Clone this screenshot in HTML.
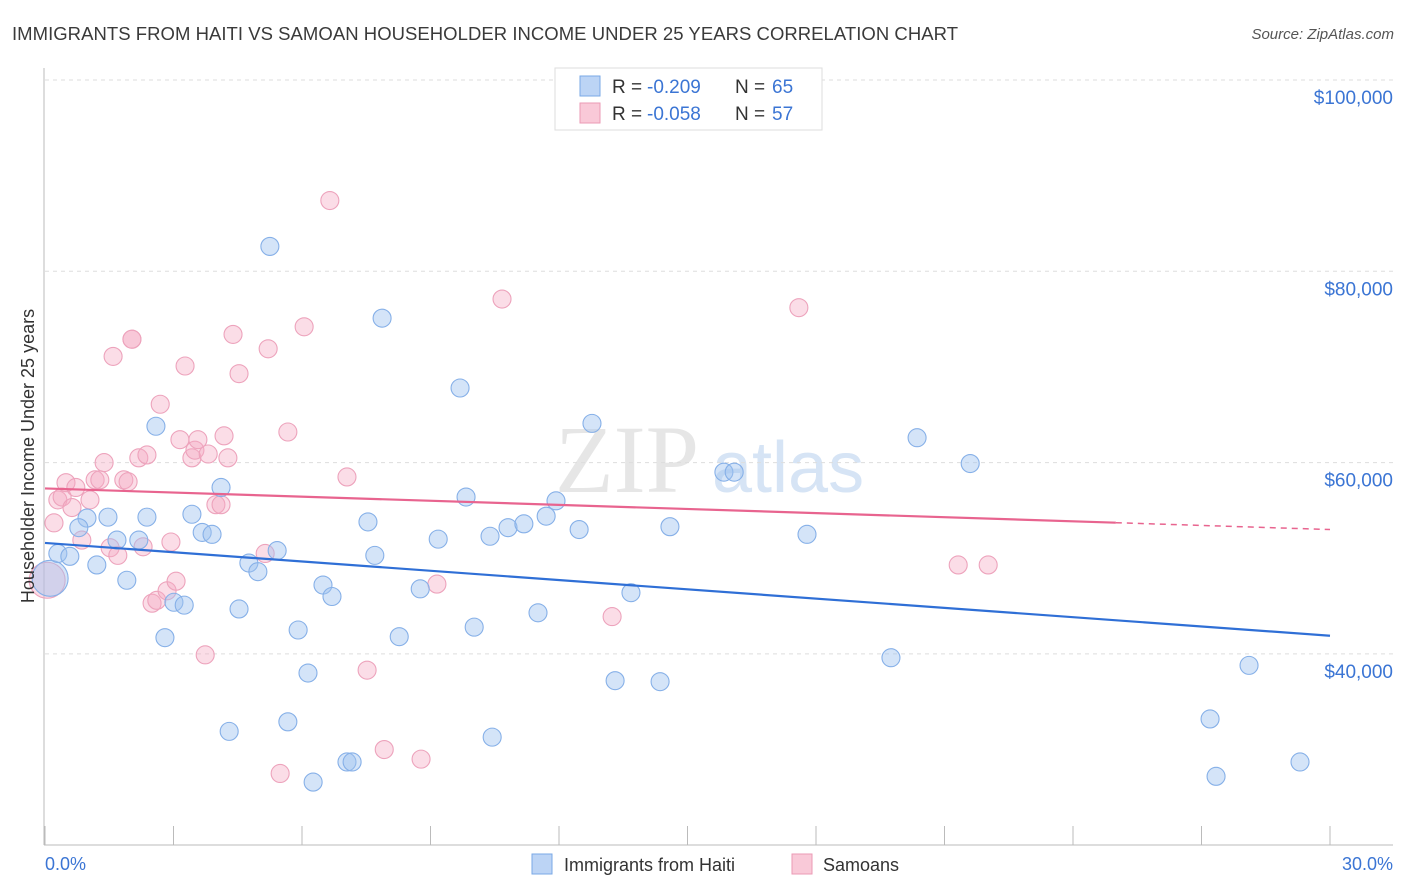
<!DOCTYPE html>
<html><head><meta charset="utf-8"><style>
body{margin:0;background:#fff;font-family:"Liberation Sans",sans-serif;}
svg{display:block}
</style></head><body>
<svg id="chart" width="1406" height="892">
<text x="12" y="40" font-size="18.5" fill="#3a3a3a" textLength="946">IMMIGRANTS FROM HAITI VS SAMOAN HOUSEHOLDER INCOME UNDER 25 YEARS CORRELATION CHART</text>
<text x="1394" y="39" font-size="15" fill="#555" font-style="italic" text-anchor="end">Source: ZipAtlas.com</text>
<text x="555" y="492" font-size="96" fill="#e6e6e6" font-family="Liberation Serif">ZIP</text>
<text x="712" y="492" font-size="72" fill="#d6e4f5">atlas</text>
<g id="grid"></g><g id="axes"></g><g id="pts"></g><g id="lines"></g>
<text transform="translate(34,456) rotate(-90)" font-size="18" fill="#333" text-anchor="middle">Householder Income Under 25 years</text>
<text x="45" y="870" font-size="18" fill="#3b75d4">0.0%</text>
<text x="1393" y="870" font-size="18" fill="#3b75d4" text-anchor="end">30.0%</text>
<g>
<rect x="555" y="68" width="267" height="62" fill="#fff" stroke="#ddd"/>
<rect x="580" y="76" width="20" height="20" fill="#bcd4f5" stroke="#7aa8e6"/>
<rect x="580" y="103" width="20" height="20" fill="#f9c9d8" stroke="#eb9ab5"/>
<text x="612" y="93" font-size="19" fill="#333">R =</text>
<text x="647" y="93" font-size="19" fill="#3b75d4">-0.209</text>
<text x="735" y="93" font-size="19" fill="#333">N =</text>
<text x="772" y="93" font-size="19" fill="#3b75d4">65</text>
<text x="612" y="120" font-size="19" fill="#333">R =</text>
<text x="647" y="120" font-size="19" fill="#3b75d4">-0.058</text>
<text x="735" y="120" font-size="19" fill="#333">N =</text>
<text x="772" y="120" font-size="19" fill="#3b75d4">57</text>
</g>
<g>
<rect x="532" y="854" width="20" height="20" fill="#bcd4f5" stroke="#7aa8e6"/>
<text x="564" y="871" font-size="18" fill="#333">Immigrants from Haiti</text>
<rect x="792" y="854" width="20" height="20" fill="#f9c9d8" stroke="#eb9ab5"/>
<text x="823" y="871" font-size="18" fill="#333">Samoans</text>
</g>
</svg>
<script>
const yTicks=[100000,80000,60000,40000];
const yTickLabels=["$100,000","$80,000","$60,000","$40,000"];
const xTicks=[0,3,6,9,12,15,18,21,24,27,30];
const haitiX=[0.12,0.30,0.58,0.98,0.79,1.21,1.47,1.68,1.91,2.19,2.38,2.59,2.80,3.01,3.25,3.43,3.67,3.90,4.11,4.53,4.76,4.97,5.25,5.42,5.67,5.91,6.14,6.26,6.49,6.70,7.05,7.17,7.54,7.70,7.87,8.27,8.76,9.18,9.69,9.83,10.02,10.39,10.44,10.81,11.18,11.51,11.70,11.93,12.47,12.77,13.31,13.68,14.36,14.59,15.85,16.09,17.79,19.75,20.36,21.60,27.20,27.34,28.11,29.30,4.30];
const haitiY=[47.9,50.5,50.2,54.2,53.2,49.3,54.3,51.9,47.7,51.9,54.3,63.8,41.7,45.4,45.1,54.6,52.7,52.5,57.4,44.7,49.5,48.6,82.6,50.8,32.9,42.5,38.0,26.6,47.2,46.0,28.7,28.7,53.8,50.3,75.1,41.8,46.8,52.0,67.8,56.4,42.8,52.3,31.3,53.2,53.6,44.3,54.4,56.0,53.0,64.1,37.2,46.4,37.1,53.3,59.0,59.0,52.5,39.6,62.6,59.9,33.2,27.2,38.8,28.7,31.9];
const samoaX=[0.05,0.21,0.30,0.40,0.49,0.63,0.72,0.86,1.05,1.17,1.28,1.38,1.52,1.59,1.70,1.84,1.94,2.03,2.19,2.29,2.38,2.50,2.61,2.69,2.85,2.94,3.06,3.27,3.15,3.43,3.50,3.57,3.74,3.81,3.99,4.11,4.18,4.27,4.39,4.53,5.14,5.21,5.49,5.67,6.05,6.65,7.05,7.52,7.92,8.78,9.15,10.67,13.24,17.60,21.32,22.02,2.03];
const samoaY=[47.7,53.7,56.1,56.4,57.9,55.3,57.4,51.9,56.1,58.2,58.2,60.0,51.1,71.1,50.3,58.2,58.0,72.9,60.5,51.2,60.8,45.3,45.6,66.1,46.6,51.7,47.6,70.1,62.4,60.5,61.3,62.4,39.9,60.9,55.6,55.6,62.8,60.5,73.4,69.3,50.5,71.9,27.5,63.2,74.2,87.4,58.5,38.3,30.0,29.0,47.3,77.1,43.9,76.2,49.3,49.3,72.9];
const haitiTrend=[51.6,41.9];
const samoaTrend=[57.3,53.0];
const samoaSolidEnd=25;
const X0=45,X1=1330,Y100=80,PX_PER_K=9.565;
const sx=v=>X0+(v/30)*(X1-X0);
const sy=k=>Y100+(100-k)*PX_PER_K;
const NS="http://www.w3.org/2000/svg";
function mk(t,a,p){const e=document.createElementNS(NS,t);for(const k in a)e.setAttribute(k,a[k]);p.appendChild(e);return e;}
const grid=document.getElementById('grid');
yTicks.forEach((t,i)=>{const y=sy(t/1000);
const l=mk('line',{x1:45,x2:1393,y1:y,y2:y,stroke:'#ddd','stroke-dasharray':'4,4'},grid);


const tx=mk('text',{x:1393,y:y+24,'font-size':19,fill:'#3b75d4','text-anchor':'end'},grid);
tx.textContent=yTickLabels[i];

});
const ax=document.getElementById('axes');
const a1=mk('line',{x1:44,x2:44,y1:68,y2:845,stroke:'#bbb'},ax);


const a2=mk('line',{x1:44,x2:1393,y1:845,y2:845,stroke:'#bbb'},ax);


xTicks.forEach(t=>{const x=sx(t);const tk=mk('line',{x1:x,x2:x,y1:826,y2:845,stroke:'#bbb'},ax);

});
const pts=document.getElementById('pts');
function drawPts(X,Y,fill,stroke,name){X.forEach((x,i)=>{const r=i===0?18:9;
const c=mk('circle',{cx:sx(x),cy:sy(Y[i]),r:r,fill:fill,stroke:stroke,'stroke-width':1.1},pts);

});}
drawPts(samoaX,samoaY,'rgba(245,170,195,0.4)','#eda3bc','samoan-point');
drawPts(haitiX,haitiY,'rgba(160,195,240,0.45)','#86b0e8','haiti-point');
const ln=document.getElementById('lines');
const bl=mk('line',{x1:sx(0),y1:sy(haitiTrend[0]),x2:sx(30),y2:sy(haitiTrend[1]),stroke:'#2f6fd6','stroke-width':2.2},ln);


const pm=v=>samoaTrend[0]+(samoaTrend[1]-samoaTrend[0])*v/30;
const pl=mk('line',{x1:sx(0),y1:sy(pm(0)),x2:sx(samoaSolidEnd),y2:sy(pm(samoaSolidEnd)),stroke:'#e8648f','stroke-width':2.2},ln);


const pd=mk('line',{x1:sx(samoaSolidEnd),y1:sy(pm(samoaSolidEnd)),x2:sx(30),y2:sy(pm(30)),stroke:'#e8648f','stroke-width':1.5,'stroke-dasharray':'6,5'},ln);


</script>
</body></html>
